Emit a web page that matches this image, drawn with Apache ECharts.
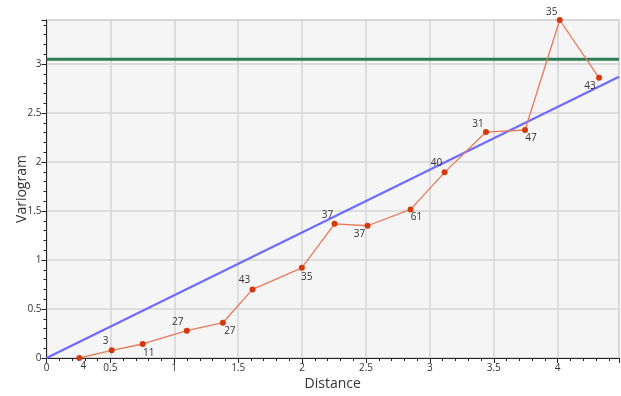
<!DOCTYPE html>
<html><head><meta charset="utf-8">
<script src="https://cdn.jsdelivr.net/npm/echarts@6/dist/echarts.min.js"></script>
<style>html,body{margin:0;padding:0;background:#fff}#c{width:621px;height:396px}</style>
</head><body><div id="c"></div>
<script>
const distances = [0.257, 0.51, 0.753, 1.098, 1.38, 1.612, 1.998, 2.254, 2.512, 2.849, 3.115, 3.439, 3.745, 4.016, 4.324];
const variogram = [0.0, 0.078, 0.143, 0.279, 0.36, 0.70, 0.92, 1.37, 1.35, 1.517, 1.895, 2.306, 2.327, 3.45, 2.86];
const pairCounts = [4, 3, 11, 27, 27, 43, 35, 37, 37, 61, 40, 31, 47, 35, 43];
const modelX = [0, 4.48];
const modelY = [0, 2.87];
const sillValue = 3.05;
const xMax = 4.48, yMax = 3.45;

// label placement offsets per point
const labelOffsets = [[4,8],[-6,-9],[6,9],[-9,-9],[7,8],[-8,-9],[5,9],[-7,-9],[-8,8],[6,8],[-8,-9],[-8,-8],[6,8],[-8,-8],[-9,8]];

const font = '"Open Sans", "Noto Sans", sans-serif';
const chart = echarts.init(document.getElementById('c'), null, {renderer:'canvas'});

const pts = distances.map((d,i)=>({
  value:[d, variogram[i]],
  label:{show:true, formatter:String(pairCounts[i]), position:'inside', offset:labelOffsets[i]}
}));

chart.setOption({
  animation:false,
  backgroundColor:'#ffffff',
  grid:{left:46.5, top:20, right:2, bottom:38, outerBoundsMode:'none', containLabel:false,
    show:true, backgroundColor:'#f5f5f5', borderColor:'#c8c8c8', borderWidth:1},
  xAxis:{
    type:'value', min:0, max:xMax, interval:0.5,
    name:'Distance', nameLocation:'middle', nameGap:19, nameMoveOverlap:false,
    nameTextStyle:{fontFamily:font, fontSize:14, color:'#333'},
    axisLine:{show:true, lineStyle:{color:'#222', width:1}},
    axisTick:{show:true, length:5, inside:false, lineStyle:{color:'#222'}},
    minorTick:{show:true, splitNumber:5, length:3, lineStyle:{color:'#222'}},
    axisLabel:{fontFamily:font, fontSize:10, color:'#333', margin:5, showMaxLabel:false,
      formatter:v=>String(v)},
    splitLine:{show:true, lineStyle:{color:'#d4d4d4', width:1.5}}
  },
  yAxis:{
    type:'value', min:0, max:yMax, interval:0.5,
    name:'Variogram', nameLocation:'middle', nameGap:17, nameRotate:90, nameMoveOverlap:false,
    nameTextStyle:{fontFamily:font, fontSize:14, color:'#333'},
    axisLine:{show:true, lineStyle:{color:'#222', width:1}},
    axisTick:{show:true, length:5, lineStyle:{color:'#222'}},
    minorTick:{show:true, splitNumber:5, length:3, lineStyle:{color:'#222'}},
    axisLabel:{fontFamily:font, fontSize:10, color:'#333', margin:5, showMaxLabel:false,
      formatter:v=>String(v)},
    splitLine:{show:true, lineStyle:{color:'#d4d4d4', width:1.5}}
  },
  series:[
    {
      type:'line', data:modelX.map((x,i)=>[x, modelY[i]]), symbol:'none', silent:true,
      lineStyle:{color:'#6c6cff', width:2.2}, z:2
    },
    {
      type:'line', data:[[0,sillValue],[xMax,sillValue]], symbol:'none', silent:true,
      lineStyle:{color:'#2e7d52', width:3}, z:2
    },
    {
      type:'line', data:pts, clip:false,
      symbol:'circle', symbolSize:6,
      itemStyle:{color:'#d4380d'},
      lineStyle:{color:'#e8795a', width:1.3},
      label:{fontFamily:font, fontSize:10, color:'#333'},
      z:3
    }
  ]
});
</script></body></html>
